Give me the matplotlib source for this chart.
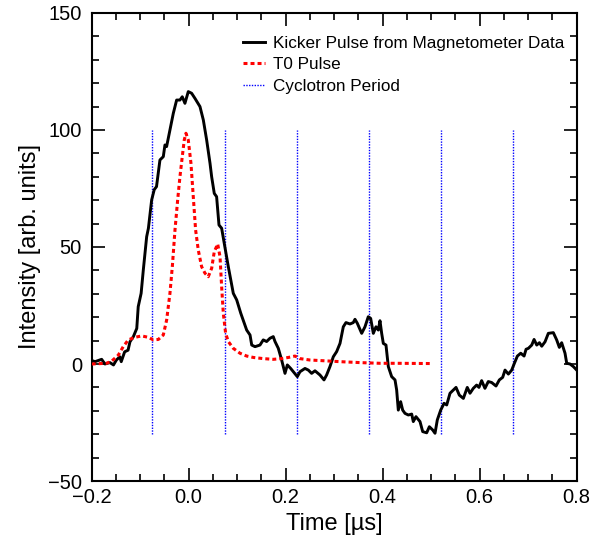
import matplotlib
matplotlib.use("Agg")
import matplotlib.pyplot as plt
from matplotlib.ticker import MultipleLocator

plt.rcParams['font.family'] = ['Liberation Sans', 'DejaVu Sans']

# Kicker pulse (magnetometer data)
kick_t = [-0.2, -0.193, -0.1794, -0.1726, -0.1623, -0.155, -0.149, -0.142, -0.139, -0.132,
          -0.125, -0.121, -0.114, -0.107, -0.104, -0.098, -0.0935, -0.0866, -0.083, -0.0763,
          -0.071, -0.0663, -0.0592, -0.0523, -0.0489, -0.0455, -0.0386, -0.0317, -0.0248, -0.018,
          -0.0132, -0.0077, -0.0008, 0.0061, 0.013, 0.0233, 0.0302, 0.0371, 0.044, 0.0474,
          0.0528, 0.0576, 0.0625, 0.068, 0.0734, 0.0817, 0.092, 0.099, 0.1074, 0.1196,
          0.1265, 0.13, 0.1368, 0.147, 0.1538, 0.1607, 0.1676, 0.1744, 0.178, 0.1848,
          0.1917, 0.1986, 0.2034, 0.2103, 0.2158, 0.224, 0.2295, 0.2398, 0.2467, 0.2535,
          0.2604, 0.2707, 0.279, 0.2844, 0.2913, 0.2982, 0.3051, 0.312, 0.3188, 0.3243,
          0.3326, 0.3394, 0.3429, 0.3477, 0.3567, 0.3635, 0.3703, 0.3752, 0.3807, 0.3862,
          0.391, 0.3944, 0.3979, 0.4013, 0.4068, 0.4116, 0.4185, 0.4254, 0.4288, 0.4322,
          0.437, 0.4412, 0.446, 0.4529, 0.4598, 0.4631, 0.4686, 0.4769, 0.4825, 0.4907,
          0.4962, 0.5031, 0.5079, 0.5126, 0.5196, 0.5265, 0.532, 0.5388, 0.5443, 0.5512,
          0.558, 0.5663, 0.5744, 0.58, 0.5868, 0.5937, 0.5985, 0.604, 0.6108, 0.6177,
          0.6246, 0.6336, 0.6405, 0.6474, 0.6522, 0.6591, 0.666, 0.6715, 0.6777, 0.6846,
          0.6915, 0.6956, 0.7004, 0.7073, 0.7121, 0.7176, 0.7231, 0.7279, 0.7347, 0.7415,
          0.7518, 0.7587, 0.7642, 0.769, 0.7759, 0.7794, 0.7862, 0.7931, 0.8]
kick_y = [1.5, 1.0, 2.0, 0.0, 0.6, -0.4, 1.7, 3.1, 1.0, 5.2,
          5.9, 9.5, 11.7, 15.2, 24.5, 30.2, 40.2, 54.4, 58.0, 70.1,
          74.5, 75.8, 87.2, 88.6, 93.6, 92.9, 100.0, 107.1, 112.8, 112.8,
          114.2, 111.4, 116.4, 115.7, 113.5, 110.0, 104.3, 95.7, 85.8, 80.0,
          72.9, 71.5, 59.4, 58.0, 51.6, 41.6, 30.2, 27.4, 21.7, 14.5,
          12.4, 8.1, 7.4, 8.1, 10.3, 9.6, 11.0, 11.7, 9.6, 6.7,
          1.7, -4.0, -0.4, -1.9, -3.3, -5.4, -3.3, -1.9, -2.6, -4.0,
          -2.9, -4.7, -6.8, -4.7, -1.1, 3.1, 5.3, 8.8, 15.9, 17.7,
          17.1, 17.7, 19.1, 17.4, 13.1, 15.9, 20.2, 19.5, 13.1, 15.9,
          14.5, 18.5, 13.1, 8.8, 8.1, -1.1, -5.4, -6.8, -11.1, -19.7,
          -16.1, -19.7, -21.1, -21.8, -21.4, -24.6, -22.5, -24.6, -28.9, -29.4,
          -26.8, -28.2, -29.6, -23.9, -19.7, -16.8, -17.5, -12.5, -11.4, -10.0,
          -13.3, -14.7, -10.0, -12.5, -10.4, -9.0, -10.0, -7.1, -10.4, -7.5,
          -7.9, -9.4, -6.8, -5.7, -2.6, -4.3, -2.6, 0.3, 3.4, 4.6,
          3.4, 6.3, 6.7, 8.1, 10.5, 8.1, 9.1, 7.6, 9.5, 13.1,
          13.4, 10.3, 7.1, 9.1, 4.6, 0.3, 0.0, -1.1, -2.6]

# T0 pulse
t0_t = [-0.2, -0.17, -0.16, -0.145, -0.135, -0.1245, -0.111, -0.097, -0.083, -0.073,
        -0.0625, -0.0523, -0.0454, -0.0386, -0.0337, -0.0282, -0.0227, -0.018, -0.0132, -0.0091,
        -0.0056, -0.0008, 0.0047, 0.0095, 0.0143, 0.0198, 0.0267, 0.0336, 0.0404, 0.0474,
        0.0528, 0.0598, 0.0646, 0.068, 0.0714, 0.0762, 0.0817, 0.092, 0.1058, 0.1196,
        0.1333, 0.1539, 0.1744, 0.1917, 0.2055, 0.2192, 0.2295, 0.2501, 0.2776, 0.312,
        0.3532, 0.3944, 0.4288, 0.497]
t0_y = [0.0, 0.3, 1.0, 3.8, 7.4, 10.3, 11.4, 12.0, 11.4, 10.3,
        10.5, 12.4, 18.8, 30.2, 41.6, 57.3, 70.1, 80.0, 88.6, 95.7,
        98.6, 95.7, 85.8, 71.5, 57.3, 48.7, 41.6, 38.8, 37.3, 40.9,
        48.0, 51.3, 45.9, 33.0, 21.7, 13.1, 9.6, 6.7, 4.6, 3.4,
        2.8, 2.3, 2.0, 2.3, 2.8, 3.4, 2.3, 1.7, 1.4, 1.0,
        0.6, 0.3, 0.3, 0.2]

# cyclotron period markers
cyc_t = [-0.075, 0.074, 0.223, 0.372, 0.520, 0.669]
cyc_lo, cyc_hi = -30, 100

fig = plt.figure(figsize=(6.03, 5.39), dpi=100)
ax = fig.add_axes([0.152, 0.1076, 0.8044, 0.8683])

ax.plot(kick_t, kick_y, color='black', lw=2.1, label='Kicker Pulse from Magnetometer Data', zorder=3)
ax.plot(t0_t, t0_y, color='red', lw=2.2, linestyle=(0, (1.3, 1.0)), label='T0 Pulse', zorder=4)
for i, t in enumerate(cyc_t):
    ax.plot([t, t], [cyc_lo, cyc_hi], color='blue', lw=1.0, linestyle=(0, (1, 1)),
            label='Cyclotron Period' if i == 0 else None, zorder=2)

ax.set_xlim(-0.2, 0.8)
ax.set_ylim(-50, 150)
ax.xaxis.set_major_locator(MultipleLocator(0.2))
ax.xaxis.set_minor_locator(MultipleLocator(0.05))
ax.yaxis.set_major_locator(MultipleLocator(50))
ax.yaxis.set_minor_locator(MultipleLocator(10))
ax.set_xticklabels([f'{v:.1f}'.replace('-', '\u2212') for v in ax.get_xticks()])

ax.tick_params(which='both', direction='in', top=True, right=True, width=1.2, labelsize=14.5)
ax.tick_params(which='major', length=9.4)
ax.tick_params(which='minor', length=4.8)
ax.tick_params(axis='x', pad=5)
ax.tick_params(axis='y', pad=7)
for s in ax.spines.values():
    s.set_linewidth(1.5)

ax.set_xlabel('Time [µs]', fontsize=17, labelpad=4)
ax.set_ylabel('Intensity [arb. units]', fontsize=17, labelpad=5)

ax.legend(loc='upper right', frameon=False, fontsize=12.3, handlelength=1.3,
          handletextpad=0.5, labelspacing=0.38, bbox_to_anchor=(1.0, 0.977), borderaxespad=0.3)

fig.savefig('out.png', dpi=100)
